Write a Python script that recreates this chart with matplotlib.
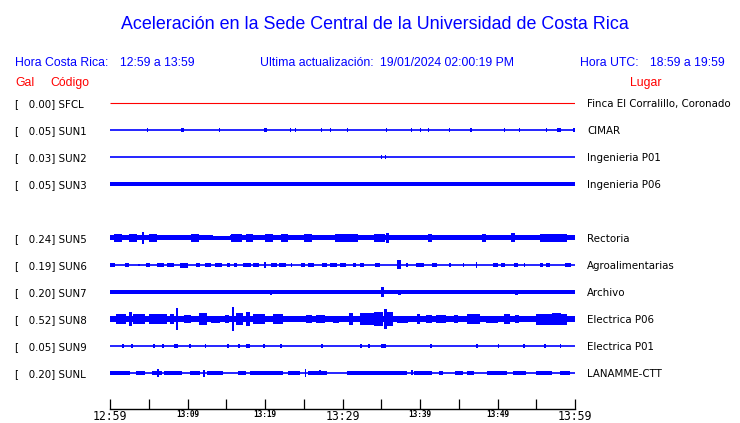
import matplotlib
matplotlib.use('Agg')
import matplotlib.pyplot as plt

# station rows (SUN4 missing, leaves an empty row)
codes = ['SFCL', 'SUN1', 'SUN2', 'SUN3', 'SUN5', 'SUN6', 'SUN7', 'SUN8', 'SUN9', 'SUNL']
rows = [0, 1, 2, 3, 5, 6, 7, 8, 9, 10]
gals = [0.00, 0.05, 0.03, 0.05, 0.24, 0.19, 0.20, 0.52, 0.05, 0.20]
places = ['Finca El Corralillo, Coronado', 'CIMAR', 'Ingenieria P01', 'Ingenieria P06',
          'Rectoria', 'Agroalimentarias', 'Archivo', 'Electrica P06', 'Electrica P01',
          'LANAMME-CTT']
tick_labels = ['12:59', '13:09', '13:19', '13:29', '13:39', '13:49', '13:59']

# bursts: (start min, end min, half amplitude in px)
bursts = {
    'SFCL': [],
    'SUN1': [(t, t + 0.15, 2) for t in [4.8, 14.1, 23.2, 23.9, 27.2, 28.4, 30.6, 35.6, 38.8,
                                        40.0, 41.0, 43.7, 46.5, 50.8, 52.8, 56.3, 59.8]]
            + [(9.2, 9.6, 2), (19.9, 20.3, 2), (57.7, 58.2, 2)],
    'SUN2': [(35.0, 35.15, 2), (35.5, 35.65, 2)],
    'SUN3': [(0, 60, 1.7), (6.0, 6.3, 2.3), (22.0, 22.3, 2.3), (38.5, 38.8, 2.3),
             (52.0, 52.3, 2.3)],
    'SUN5': [(0, 13.3, 2.5), (15.5, 60, 2.5), (13.3, 15.5, 1.6), (0.5, 1.5, 3.6),
             (2.5, 3.5, 3.6), (4.1, 4.4, 5.7), (5, 6, 3.6), (10.5, 11.5, 3.6), (15.6, 17, 3.8),
             (17.5, 18.5, 3.6), (20, 21, 3.6), (22, 23, 3.6), (25, 26, 3.6), (29, 32, 3.6),
             (34, 35.5, 3.6), (35.6, 36, 5), (41, 41.5, 3.6), (48, 48.5, 3.6),
             (51.8, 52.3, 4.5), (55.5, 59, 3.6)],
    'SUN6': [(0, 0.6, 1.7), (1.9, 2.4, 1.7), (3.6, 3.9, 1.4), (4.6, 5.1, 1.9), (6.0, 7.0, 1.9),
             (7.4, 8.2, 1.9), (9.0, 10.0, 2.5), (11.1, 11.6, 1.7), (12.2, 13.0, 1.9),
             (13.6, 14.5, 1.9), (15.1, 15.5, 1.7), (16.0, 16.4, 1.7), (17.2, 18.2, 1.9),
             (18.5, 19.2, 1.9), (19.9, 20.1, 3.0), (20.8, 21.5, 1.9), (21.8, 22.7, 1.9),
             (23.3, 23.5, 1.7), (24.7, 25.2, 1.7), (25.6, 26.3, 1.9), (27.3, 28.0, 1.7),
             (28.4, 29.3, 1.9), (29.7, 30.5, 1.7), (31.3, 31.8, 1.9), (32.3, 32.8, 1.9),
             (34.2, 34.9, 1.7), (37.0, 37.6, 4.5), (38.2, 38.4, 1.9), (39.5, 40.5, 1.9),
             (41.6, 42.2, 1.9), (43.8, 44.0, 1.7), (45.5, 45.7, 1.7), (47.2, 47.4, 3.0),
             (49.4, 50.0, 1.7), (50.4, 51.0, 1.9), (52.1, 52.6, 1.7), (53.4, 53.6, 1.7),
             (55.5, 55.9, 1.7), (56.3, 56.8, 1.9), (58.7, 59.5, 1.9)],
    'SUN7': [(0, 60, 1.7), (20.6, 20.9, 2.5), (35.0, 35.3, 5), (37.2, 37.5, 2.5),
             (48.4, 48.7, 2.2), (52.3, 52.7, 2.5)],
    'SUN8': [(0, 60, 3.0), (0.8, 2.0, 5), (2.4, 2.8, 7), (3, 4.5, 5), (5, 7.3, 5), (7.8, 8.3, 5),
             (8.5, 8.8, 11), (9.6, 10.4, 4), (11.5, 12.5, 6), (13, 14.2, 3.5), (14.8, 15.3, 4),
             (15.8, 16.0, 12), (16.2, 17.2, 6), (17.6, 18.0, 7), (18.5, 20, 5), (21, 22.3, 5),
             (25.3, 26, 4), (26.6, 27.7, 4), (28.8, 29.6, 3.5), (30.8, 31.3, 6), (32.2, 34, 6),
             (34, 35.2, 7), (35.4, 35.7, 10), (35.8, 36.5, 7), (37, 38.5, 3.5), (39.6, 40, 5),
             (40.8, 41.5, 4), (42, 43.4, 4), (44.4, 44.9, 4), (46, 47.8, 5), (48.5, 50, 3.5),
             (50.9, 51.6, 5), (52.2, 52.8, 4), (55, 59, 5.5), (57, 58.2, 6)],
    'SUN9': [(t, t + 0.25, 1.6) for t in [1.6, 2.7, 5.6, 6.7, 10.2, 12.2, 15.1, 16.5, 19.8,
                                          21.9, 27.2, 32.3, 33.3, 41.3, 47.2, 50.0, 53.3,
                                          56.0, 58.0]]
            + [(8.2, 8.8, 1.6), (17.5, 18.0, 2), (35.0, 35.6, 2)],
    'SUNL': [(0, 2.6, 2.1), (3.3, 4.5, 1.8), (5.4, 6.7, 2.1), (6.1, 6.3, 4), (7, 9.3, 1.8),
             (10.3, 11.6, 1.8), (12.0, 12.2, 3.5), (12.5, 14.6, 1.8), (16.5, 17.5, 1.8),
             (18, 22.3, 1.8), (23, 24.5, 1.8), (25.1, 25.3, 4), (25.6, 28, 1.8),
             (27.0, 27.2, 2.5), (30.6, 38.3, 2.2), (38.9, 39.1, 2.5), (39.2, 41.5, 1.8),
             (42.5, 43, 1.8), (44.5, 45.5, 2.2), (46, 47, 1.8), (48.6, 51.2, 2.2),
             (52, 53.7, 1.8), (55, 57, 1.8), (58, 59.4, 1.8)],
}

W, H = 740, 423
PX_ROW = 27.0   # pixels between rows
ROW0 = 103      # pixel y of first row
BLUE = '#0000ff'
RED = '#ff0000'

fig = plt.figure(figsize=(W / 100, H / 100), dpi=100)
ax = fig.add_axes([110 / W, 1 - 409 / H, 465 / W, (409 - 90) / H])

for code, row in zip(codes, rows):
    color = RED if code == 'SFCL' else BLUE
    ax.hlines(row, 0, 60, color=color, lw=0.8 if code == 'SFCL' else 1.2)
    for t0, t1, amp in bursts[code]:
        a = amp / PX_ROW
        ax.bar(t0, 2 * a, width=t1 - t0, bottom=row - a, align='edge',
               color=color, linewidth=0)

ax.set_xlim(0, 60)
ax.set_ylim((409 - ROW0) / PX_ROW, (90 - ROW0) / PX_ROW)
for s in ['top', 'left', 'right']:
    ax.spines[s].set_visible(False)
ax.spines['bottom'].set_linewidth(1.0)
ax.set_yticks([])
ax.set_xticks(range(0, 61, 10))
ax.set_xticks(range(5, 60, 10), minor=True)
ax.tick_params(axis='x', which='both', direction='in', length=7.5, width=0.9, pad=1)
ax.set_xticklabels(tick_labels, family='DejaVu Sans Mono')
for i, lab in enumerate(ax.get_xticklabels()):
    if i % 3 == 0:
        lab.set_fontsize(8.3)
    else:
        lab.set_fontsize(5.6)
        lab.set_fontweight('bold')


def put(x, y, s, color, size, family='Liberation Sans', ha='left'):
    fig.text(x / W, 1 - y / H, s, color=color, fontsize=size, family=family,
             ha=ha, va='baseline')


put(375, 29, 'Aceleración en la Sede Central de la Universidad de Costa Rica', BLUE, 12.9,
    ha='center')
put(15, 66, 'Hora Costa Rica:', BLUE, 8.8)
put(120, 66, '12:59 a 13:59', BLUE, 8.8)
put(260, 66, 'Ultima actualización:', BLUE, 8.8)
put(380, 66, '19/01/2024 02:00:19 PM', BLUE, 8.8)
put(580, 66, 'Hora UTC:', BLUE, 8.8)
put(650, 66, '18:59 a 19:59', BLUE, 8.8)
put(15, 86, 'Gal', RED, 8.8)
put(50, 86, 'Código', RED, 8.8)
put(630, 86, 'Lugar', RED, 8.8)

for code, row, g, place in zip(codes, rows, gals, places):
    y = ROW0 + PX_ROW * row + 4
    put(15, y, '[   %.2f] %s' % (g, code), 'black', 7.4, family='DejaVu Sans')
    put(587, y, place, 'black', 7.4, family='DejaVu Sans')

fig.savefig('out.png', dpi=100)
